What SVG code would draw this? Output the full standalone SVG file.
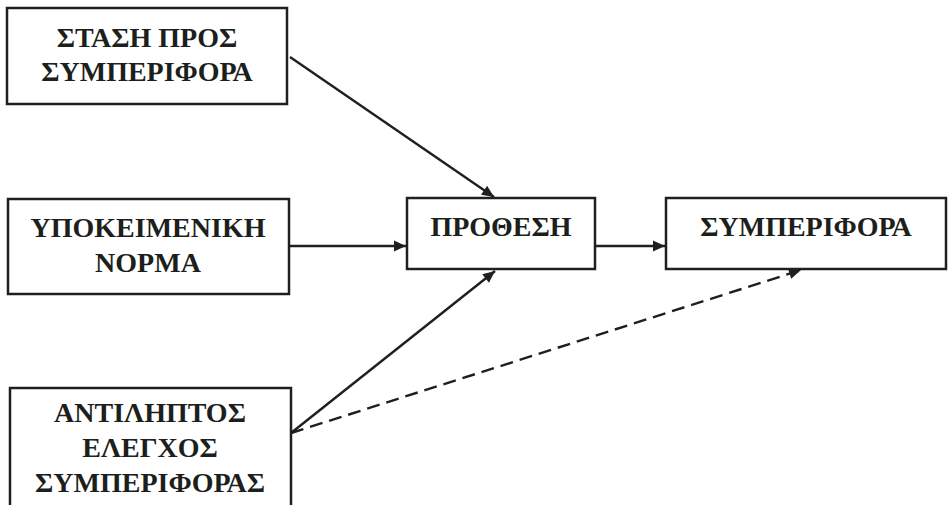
<svg xmlns="http://www.w3.org/2000/svg" width="948" height="505" viewBox="0 0 948 505">
<style>
.box{fill:#ffffff;stroke:#1c211c;stroke-width:2.5}
.lbl{font-family:"Liberation Serif","Times New Roman",serif;font-weight:bold;font-size:28px;fill:#1c1f1c;text-anchor:middle}
.con{stroke:#1c211c;stroke-width:2.4;fill:none}
.dash{stroke-dasharray:13 7}
</style>
<defs>
<marker id="ah" viewBox="0 0 10 10" refX="10" refY="5" markerWidth="13" markerHeight="12" markerUnits="userSpaceOnUse" orient="auto">
<path d="M0,0.5 L10,5 L0,9.5 Z" fill="#1c211c"/>
</marker>
</defs>
<rect width="948" height="505" fill="#ffffff"/>
<g id="connectors">
<line class="con" x1="290" y1="57" x2="494" y2="197" marker-end="url(#ah)"/>
<line class="con" x1="289" y1="246" x2="406" y2="246" marker-end="url(#ah)"/>
<line class="con" x1="595" y1="246" x2="665" y2="246" marker-end="url(#ah)"/>
<line class="con" x1="291" y1="433" x2="495" y2="271" marker-end="url(#ah)"/>
<line class="con dash" x1="291" y1="433" x2="801" y2="270" marker-end="url(#ah)"/>
</g>
<g id="attitude">
<rect class="box" x="7" y="8" width="280" height="96"/>
<text class="lbl" x="147" y="47">ΣΤΑΣΗ ΠΡΟΣ</text>
<text class="lbl" x="147" y="81">ΣΥΜΠΕΡΙΦΟΡΑ</text>
</g>
<g id="norm">
<rect class="box" x="8" y="199" width="281" height="95"/>
<text class="lbl" x="148" y="237">ΥΠΟΚΕΙΜΕΝΙΚΗ</text>
<text class="lbl" x="148" y="272">ΝΟΡΜΑ</text>
</g>
<g id="intention">
<rect class="box" x="407" y="198" width="188" height="71"/>
<text class="lbl" x="501" y="236">ΠΡΟΘΕΣΗ</text>
</g>
<g id="behaviour">
<rect class="box" x="666" y="198" width="280" height="71"/>
<text class="lbl" x="806" y="236">ΣΥΜΠΕΡΙΦΟΡΑ</text>
</g>
<g id="control">
<rect class="box" x="10" y="388" width="281" height="130"/>
<text class="lbl" x="150" y="422">ΑΝΤΙΛΗΠΤΟΣ</text>
<text class="lbl" x="150" y="457">ΕΛΕΓΧΟΣ</text>
<text class="lbl" x="150" y="492">ΣΥΜΠΕΡΙΦΟΡΑΣ</text>
</g>
</svg>
